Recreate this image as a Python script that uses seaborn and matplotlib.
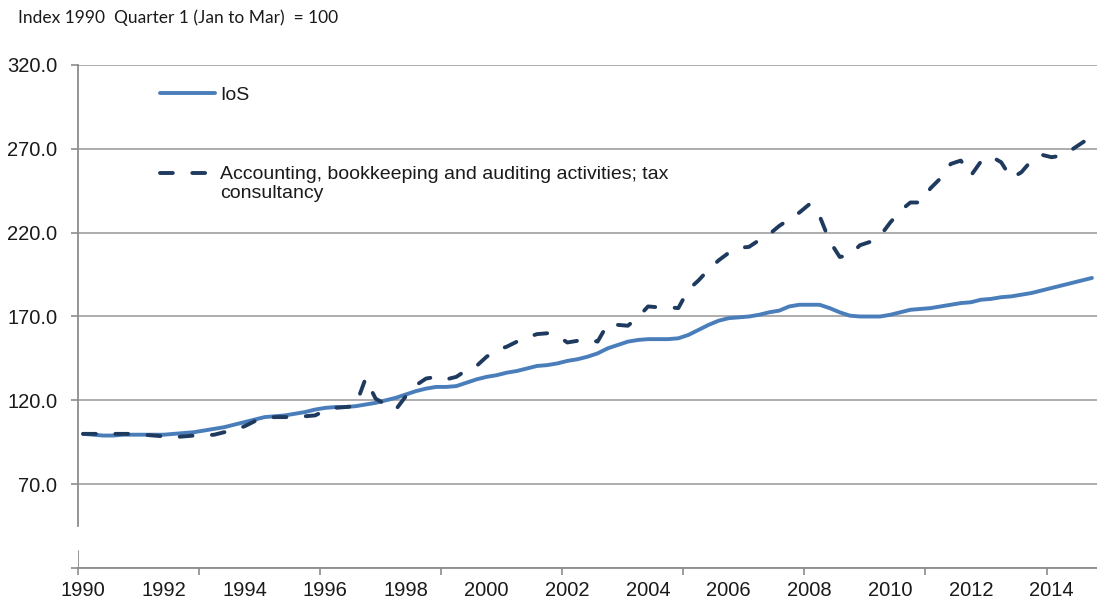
import numpy as np
import pandas as pd
import matplotlib
matplotlib.use("Agg")
import matplotlib.pyplot as plt
from matplotlib.ticker import FixedLocator
import seaborn as sns

# ---- data (quarterly, 1990 Q1 .. 2015 Q1; index 1990 Q1 = 100) ----
year_labels = ["1990", "1992", "1994", "1996", "1998", "2000", "2002",
               "2004", "2006", "2008", "2010", "2012", "2014"]
y_ticks = [20, 70, 120, 170, 220, 270, 320]
y_tick_labels = ["", "70.0", "120.0", "170.0", "220.0", "270.0", "320.0"]

ios = [100, 99.5, 99, 99, 99.5, 99.5, 99.5, 99.5,
       99.5, 100, 100.5, 101, 102, 103, 104, 105.5,
       107, 108.5, 110, 110.5, 111, 112, 113, 114.5,
       115.5, 116, 116, 116.5, 117.5, 118.5, 120, 121.5,
       123.5, 125.5, 127, 128, 128, 128.5, 130.5, 132.5,
       134, 135, 136.5, 137.5, 139, 140.5, 141, 142,
       143.5, 144.5, 146, 148, 151, 153, 155, 156,
       156.5, 156.5, 156.5, 157, 159, 162, 165, 167.5,
       169, 169.5, 170, 171, 172.5, 173.5, 176, 177,
       177, 177, 175, 172.5, 170.5, 170, 170, 170,
       171, 172.5, 174, 174.5, 175, 176, 177, 178,
       178.5, 180, 180.5, 181.5, 182, 183, 184, 185.5,
       187, 188.5, 190, 191.5, 193]

accounting = [100, 100, 100, 100, 100, 100, 99.5, 99,
              98.5, 98, 98.5, 99, 99, 99.5, 101, 102.5,
              104.5, 107.5, 109.5, 110, 110, 110, 110.5, 111,
              114, 115.5, 116, 116.5, 133, 121, 117.5, 114.5,
              122.5, 129, 133, 134, 132.5, 134, 138, 140.5,
              146, 150, 152, 155, 157.5, 159.5, 160, 158.5,
              154.5, 155.5, 156.5, 155, 165.5, 165, 164.5, 169.5,
              176, 175.5, 175.5, 175, 186, 191.5, 198, 203.5,
              208, 211, 211.5, 215.5, 219, 224, 228, 232,
              237, 230, 215, 205.5, 206.5, 212.5, 214.5, 218,
              226, 233, 238, 238, 246.5, 252.5, 261, 263,
              254, 262.5, 265.5, 262, 252.5, 256, 263, 266.5,
              265, 266, 269.5, 273.5, 277.5]

ios_label = "IoS"
acc_label = "Accounting, bookkeeping and auditing activities; tax\nconsultancy"

df = pd.DataFrame({"q": np.arange(len(ios)), "ios": ios, "acc": accounting})

# ---- style ----
sns.set_style("white")
plt.rcParams["font.family"] = ["Liberation Sans", "DejaVu Sans"]

W, H = 1097, 607
fig = plt.figure(figsize=(W / 100, H / 100), dpi=100)
ax = fig.add_axes([78 / W, (H - 568) / H, 1019 / W, 503 / H])

grid_c = "#a0a0a0"
axis_c = "#8c8c8c"
DASH = (0, (3.3, 5.0))

sns.lineplot(data=df, x="q", y="ios", ax=ax, color="#4a7ebb", linewidth=2.8,
             label=ios_label, solid_capstyle="round", zorder=3)
sns.lineplot(data=df, x="q", y="acc", ax=ax, color="#1f3a5f", linewidth=2.8,
             label=acc_label, zorder=4)
dash_line = ax.lines[-1]
dash_line.set_linestyle(DASH)
dash_line.set_dash_capstyle("round")

ax.set_xlim(-0.5, len(ios) - 0.5)
ax.set_ylim(20, 320)
ax.set_xlabel("")
ax.set_ylabel("")

# x ticks: labels every 8 quarters, tick marks every 12 quarters (category boundaries)
ax.xaxis.set_major_locator(FixedLocator(np.arange(0, len(ios), 8)))
ax.set_xticklabels(year_labels)
ax.xaxis.set_minor_locator(FixedLocator(np.arange(-0.5, len(ios), 12)))
ax.tick_params(axis="x", which="major", length=0, pad=9, labelsize=14.5, labelcolor="#1a1a1a")
ax.tick_params(axis="x", which="minor", length=5, width=1.2, color=axis_c, direction="out")
ax.tick_params(axis="x", bottom=True, which="both")

ax.set_yticks(y_ticks)
ax.set_yticklabels(y_tick_labels)
ax.tick_params(axis="y", length=5, width=1.2, color=axis_c, direction="out", pad=10,
               labelsize=14.5, labelcolor="#1a1a1a", left=True)

ax.yaxis.grid(True, color=grid_c, linewidth=1.2)
ax.xaxis.grid(False)
ax.set_axisbelow(True)

for s in ["top", "right"]:
    ax.spines[s].set_visible(False)
ax.spines["bottom"].set_color(axis_c)
ax.spines["bottom"].set_linewidth(1.3)
ax.spines["left"].set_color(axis_c)
ax.spines["left"].set_linewidth(1.3)
ax.spines["left"].set_bounds(45, 320)
# lower piece of the broken value axis
ax.axvline(-0.5, ymin=0, ymax=(30 - 20) / 300, color=axis_c, linewidth=1.3, zorder=2)

leg = ax.legend(loc="upper left", bbox_to_anchor=(160 / W, 1 - 86 / H),
                bbox_transform=fig.transFigure, frameon=False, fontsize=14,
                handlelength=2.83, handletextpad=0.26, labelspacing=3.2,
                borderpad=0, borderaxespad=0)
for t in leg.get_texts():
    t.set_color("#1a1a1a")
lh = leg.get_lines()[1]
lh.set_linestyle(DASH)
lh.set_dash_capstyle("round")
lh.set_ydata(np.asarray(lh.get_ydata()) + 8.0)

fig.text(18 / W, 1 - 18 / H, "Index 1990  Quarter 1 (Jan to Mar)  = 100",
         fontsize=12.5, family=["Lato", "DejaVu Sans"], color="#1a1a1a",
         ha="left", va="center")

fig.savefig("out.png", dpi=100)
